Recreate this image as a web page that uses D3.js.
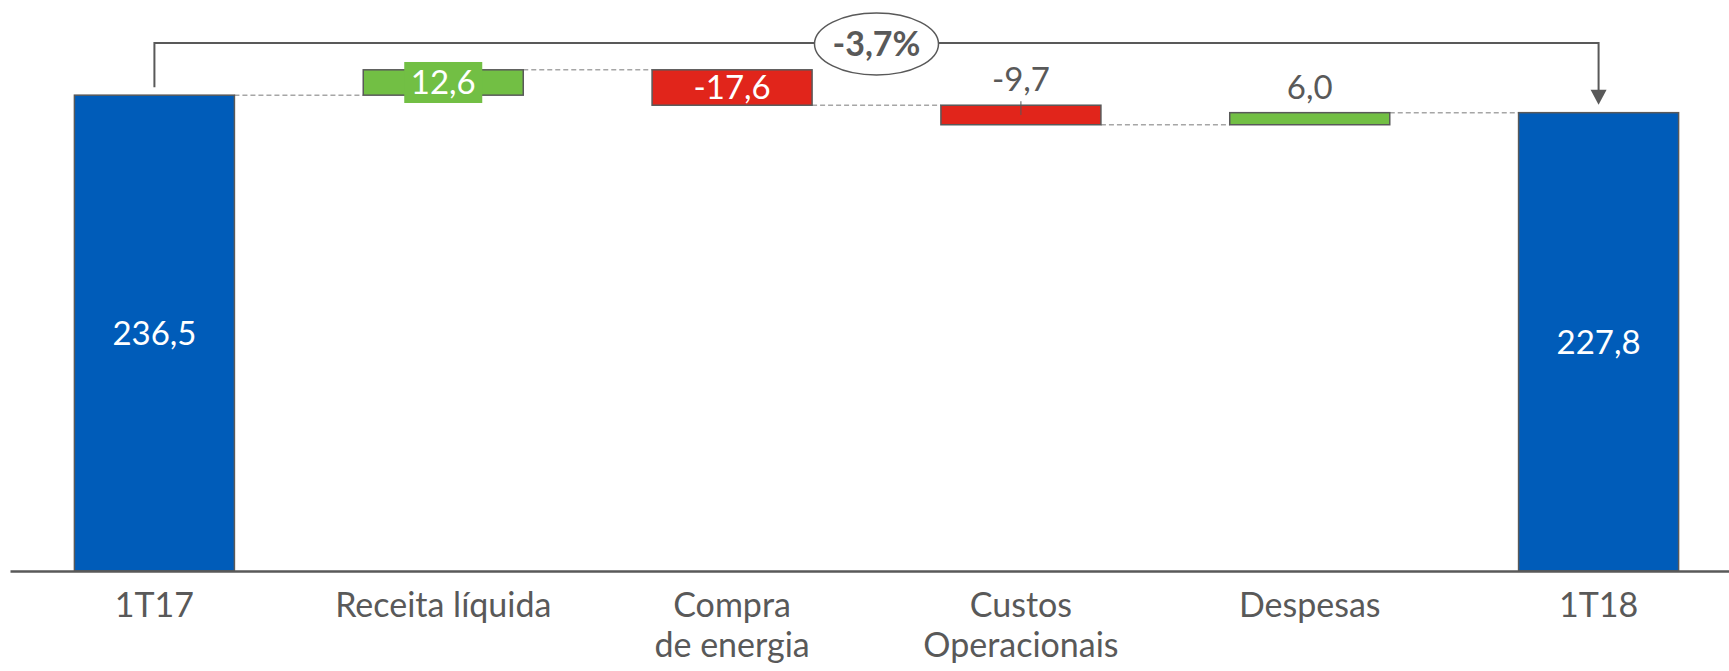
<!DOCTYPE html>
<html>
<head>
<meta charset="utf-8">
<script src="https://cdn.jsdelivr.net/npm/d3@7"></script>
<style>
  body { margin: 0; background: #fff; }
  text { font-family: Lato, "Open Sans", sans-serif; }
</style>
</head>
<body>
<div id="chart"></div>
<script>
// data
const categories = ["1T17", "Receita líquida", "Compra\nde energia", "Custos\nOperacionais", "Despesas", "1T18"];
const values = [236.5, 12.6, -17.6, -9.7, 6.0, 227.8];
const kinds = ["total", "delta", "delta", "delta", "delta", "total"];

const W = 1729, H = 671;
const grey = "#595959";
const colors = {total: "#005CB9", up: "#72BF44", down: "#E1251B"};

// pt-BR number format (comma decimal)
const ptBR = d3.formatLocale({decimal: ",", thousands: ".", grouping: [3], currency: ["R$", ""], minus: "-"});
const fmt = ptBR.format(".1f");

const svg = d3.select("#chart")
    .append("svg")
    .attr("width", W)
    .attr("height", H);

const x = d3.scaleBand()
    .domain(categories)
    .range([10, 1743])
    .paddingInner(0.446)
    .paddingOuter(0.223);

const y = d3.scaleLinear()
    .domain([0, 250])
    .range([571, 68]);

// build waterfall steps
let running = 0;
const steps = categories.map((c, i) => {
    let start, end;
    if (kinds[i] === "total") {
        start = 0; end = values[i]; running = values[i];
    } else {
        start = running; end = running + values[i]; running = end;
    }
    return {cat: c, value: values[i], kind: kinds[i], start: start, end: end, i: i};
});

// dashed connectors
for (let i = 0; i < steps.length - 1; i++) {
    const level = steps[i].end;
    svg.append("line")
        .attr("x1", x(steps[i].cat) + x.bandwidth())
        .attr("x2", x(steps[i + 1].cat))
        .attr("y1", y(level))
        .attr("y2", y(level))
        .attr("stroke", "#A6A6A6")
        .attr("stroke-width", 1.5)
        .attr("stroke-dasharray", "5,3");
}

// bars
svg.selectAll("rect.bar")
    .data(steps)
    .enter()
    .append("rect")
    .attr("class", "bar")
    .attr("x", d => x(d.cat))
    .attr("width", x.bandwidth())
    .attr("y", d => y(Math.max(d.start, d.end)))
    .attr("height", d => Math.abs(y(d.start) - y(d.end)))
    .attr("fill", d => d.kind === "total" ? colors.total : (d.value >= 0 ? colors.up : colors.down))
    .attr("stroke", grey)
    .attr("stroke-width", 1.5);

// x axis
const xAxis = d3.axisBottom(x).tickSize(0).tickSizeOuter(0);
const gx = svg.append("g")
    .attr("transform", `translate(0, ${y(0)})`)
    .call(xAxis);
gx.select(".domain").attr("stroke", grey).attr("stroke-width", 2.5);
gx.selectAll("text")
    .attr("fill", grey)
    .attr("font-size", "34px")
    .attr("y", 46)
    .attr("dy", null)
    .each(function () {
        const text = d3.select(this);
        const lines = text.text().split("\n");
        text.text(null);
        lines.forEach(function (line, i) {
            text.append("tspan")
                .attr("x", 0)
                .attr("dy", i === 0 ? 0 : 40)
                .text(line);
        });
    });

// data labels
const labelSize = 33;
steps.forEach(d => {
    const cx = x(d.cat) + x.bandwidth() / 2;
    const top = y(Math.max(d.start, d.end));
    const bottom = y(Math.min(d.start, d.end));
    const mid = (top + bottom) / 2;
    const h = bottom - top;
    const label = fmt(d.value);

    if (h > 30) {
        // fits inside the bar
        svg.append("text")
            .attr("x", cx).attr("y", mid)
            .attr("dy", "0.36em")
            .attr("text-anchor", "middle")
            .attr("font-size", labelSize + "px")
            .attr("fill", "#fff")
            .text(label);
    } else if (h > 22) {
        // label on its own coloured box
        const bw = 78, bh = 41;
        svg.append("rect")
            .attr("x", cx - bw / 2).attr("y", mid - bh / 2)
            .attr("width", bw).attr("height", bh)
            .attr("fill", d.value >= 0 ? colors.up : colors.down);
        svg.append("text")
            .attr("x", cx).attr("y", mid)
            .attr("dy", "0.36em")
            .attr("text-anchor", "middle")
            .attr("font-size", labelSize + "px")
            .attr("fill", "#fff")
            .text(label);
    } else {
        // above the bar
        const base = top - 14;
        svg.append("text")
            .attr("x", cx).attr("y", base)
            .attr("text-anchor", "middle")
            .attr("font-size", labelSize + "px")
            .attr("fill", grey)
            .text(label);
        if (d.value < 0) {
            // small leader line
            svg.append("line")
                .attr("x1", cx).attr("x2", cx)
                .attr("y1", base + 10).attr("y2", mid)
                .attr("stroke", grey)
                .attr("stroke-width", 1);
        }
    }
});

// bracket from first to last total with arrow
const first = steps[0], last = steps[steps.length - 1];
const x0 = x(first.cat) + x.bandwidth() / 2;
const x1 = x(last.cat) + x.bandwidth() / 2;
const yBracket = 43;
const tipY = y(last.end) - 8;

svg.append("path")
    .attr("d", `M${x0},${y(first.end) - 8} V${yBracket} H${x1} V${tipY - 12}`)
    .attr("fill", "none")
    .attr("stroke", grey)
    .attr("stroke-width", 2);

svg.append("path")
    .attr("d", `M${x1 - 8},${tipY - 15} L${x1 + 8},${tipY - 15} L${x1},${tipY} Z`)
    .attr("fill", grey);

// change bubble
const change = last.end / first.end - 1;
const ex = (x0 + x1) / 2;
svg.append("ellipse")
    .attr("cx", ex).attr("cy", 44)
    .attr("rx", 62).attr("ry", 31)
    .attr("fill", "#fff")
    .attr("stroke", grey)
    .attr("stroke-width", 1.5);

svg.append("text")
    .attr("x", ex).attr("y", 44)
    .attr("dy", "0.36em")
    .attr("text-anchor", "middle")
    .attr("font-size", "34px")
    .attr("font-weight", "bold")
    .attr("fill", grey)
    .text(ptBR.format(".1%")(change));
</script>
</body>
</html>
